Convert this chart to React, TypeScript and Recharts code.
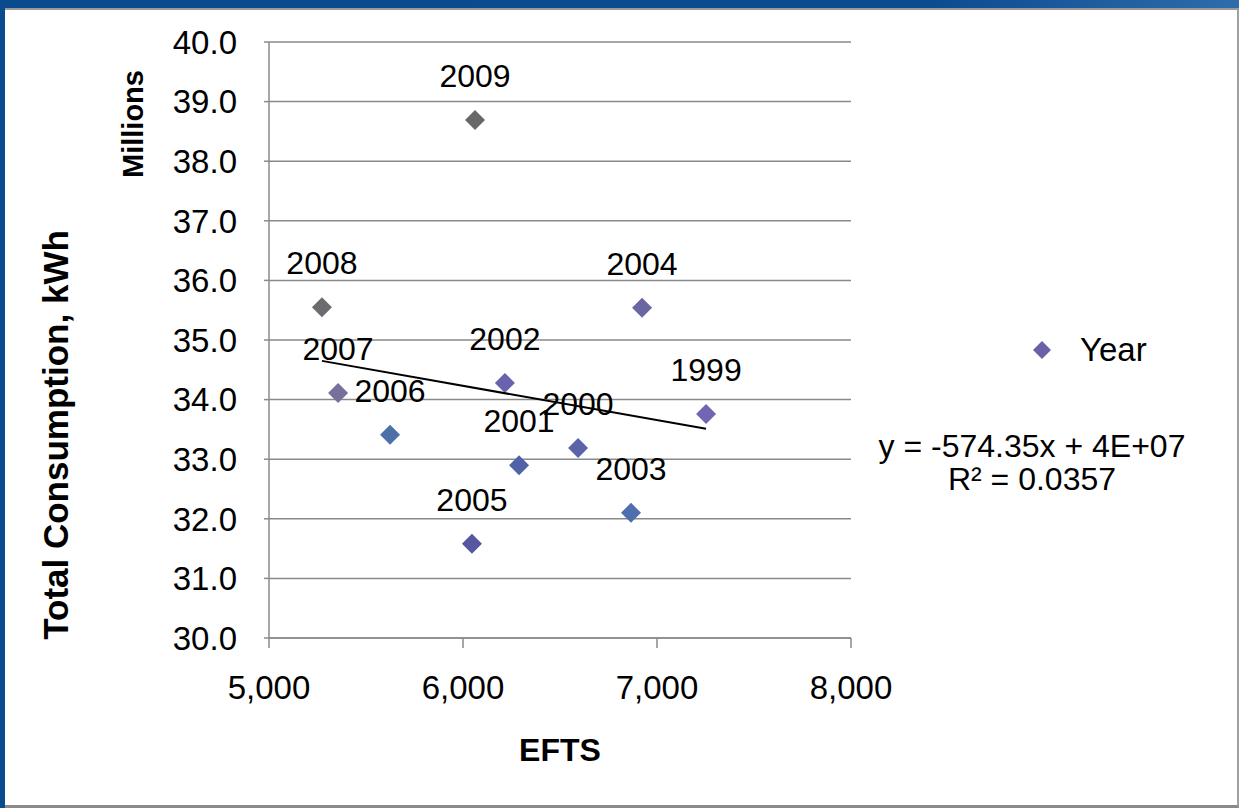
import React from 'react';
import { ScatterChart, Scatter, XAxis, YAxis, CartesianGrid, Legend, LabelList, Cell } from 'recharts';

const years = ['2009', '2008', '2007', '2006', '2005', '2002', '2001', '2000', '2003', '2004', '1999'];
const efts = [6062, 5273, 5356, 5624, 6046, 6216, 6289, 6593, 6866, 6923, 7253];
// total consumption, millions of kWh
const consumption = [38.69, 35.55, 34.11, 33.41, 31.58, 34.28, 32.9, 33.19, 32.1, 35.54, 33.76];
const markerColors = [
  '#686868', '#6c6c70', '#76709a', '#4d70a8', '#5558a0', '#6a62ae',
  '#5062a8', '#5a64a8', '#4f6eb0', '#6a66a2', '#7266b2'
];

const trendX = [5273, 7253];
const trendY = [34.65, 33.51];

const xTicks = [5000, 6000, 7000, 8000];
const yTicks = [30, 31, 32, 33, 34, 35, 36, 37, 38, 39, 40];

const FONT = '"Liberation Sans", Arial, sans-serif';

const points = years.map((year, i) => ({ year, x: efts[i], y: consumption[i] }));
const trend = trendX.map((x, i) => ({ x, y: trendY[i] }));

const Diamond = (props: any) => {
  const { cx, cy, fill } = props;
  if (cx == null || cy == null) return <g />;
  const r = 10;
  return <polygon points={`${cx},${cy - r} ${cx + r},${cy} ${cx},${cy + r} ${cx - r},${cy}`} fill={fill} />;
};

const YearLabel = (props: any) => {
  const { x, y, width, height, value } = props;
  const cx = x + (width ?? 0) / 2;
  const cy = y + (height ?? 0) / 2;
  return (
    <text x={cx} y={cy - 44} textAnchor="middle" dominantBaseline="central" fontSize={32} fontFamily={FONT} fill="#000">
      {value}
    </text>
  );
};

const renderLegend = () => (
  <div style={{ display: 'flex', alignItems: 'center', fontFamily: FONT, fontSize: 33, color: '#000', height: 36 }}>
    <svg width={24} height={24} style={{ marginRight: 26 }}>
      <polygon points="12,3 21,12 12,21 3,12" fill="#6a62a8" />
    </svg>
    <span>Year</span>
  </div>
);

const App: React.FC = () => {
  return (
    <div
      style={{
        position: 'absolute',
        left: 0,
        top: 0,
        width: 1239,
        height: 808,
        background: 'linear-gradient(90deg, #0a4a8e 0%, #0b4b8f 75%, #2e6cab 100%)',
        overflow: 'hidden'
      }}
    >
      <div
        style={{
          position: 'absolute',
          left: 5,
          top: 8,
          width: 1234,
          height: 800,
          background: '#fff',
          borderTop: '2px solid #9a9a9a',
          borderRight: '2px solid #a0a0a0',
          borderBottom: '3px solid #8a8a8a',
          boxSizing: 'border-box'
        }}
      />
      <div style={{ position: 'absolute', left: 0, top: 0 }}>
        <ScatterChart width={1239} height={808} margin={{ left: 189, right: 388, top: 42, bottom: 74 }}>
          <CartesianGrid horizontal vertical={false} stroke="#8a8a8a" strokeWidth={1.5} />
          <XAxis
            type="number"
            dataKey="x"
            domain={[5000, 8000]}
            ticks={xTicks}
            height={60}
            tickFormatter={(v: number) => v.toLocaleString('en-US')}
            tick={{ fontSize: 33, fontFamily: FONT, fill: '#000' }}
            tickSize={10}
            tickMargin={28}
            stroke="#8a8a8a"
            strokeWidth={1.5}
            allowDataOverflow
            label={(props: any) => {
              const vb = props.viewBox;
              return (
                <text x={vb.x + vb.width / 2} y={vb.y + 112} textAnchor="middle" dominantBaseline="central"
                  fontSize={32} fontWeight="bold" fontFamily={FONT} fill="#000">
                  EFTS
                </text>
              );
            }}
          />
          <YAxis
            type="number"
            dataKey="y"
            domain={[30, 40]}
            ticks={yTicks}
            width={80}
            tickFormatter={(v: number) => v.toFixed(1)}
            tick={{ fontSize: 33, fontFamily: FONT, fill: '#000' }}
            tickSize={5}
            tickMargin={27}
            stroke="#8a8a8a"
            strokeWidth={1.5}
            allowDataOverflow
            label={(props: any) => {
              const vb = props.viewBox;
              const tx = vb.x - 134;
              const ty = vb.y + 393;
              const mx = vb.x - 56;
              const my = vb.y + 82;
              return (
                <g>
                  <text x={tx} y={ty} transform={`rotate(-90 ${tx} ${ty})`} textAnchor="middle" dominantBaseline="central"
                    fontSize={35} fontWeight="bold" fontFamily={FONT} fill="#000">
                    Total Consumption, kWh
                  </text>
                  <text x={mx} y={my} transform={`rotate(-90 ${mx} ${my})`} textAnchor="middle" dominantBaseline="central"
                    fontSize={29} fontWeight="bold" fontFamily={FONT} fill="#000">
                    Millions
                  </text>
                </g>
              );
            }}
          />
          <Legend
            content={renderLegend}
            wrapperStyle={{ position: 'absolute', left: 1030, top: 332, width: 170, height: 36 }}
          />
          <Scatter name="Year" data={points} shape={Diamond} isAnimationActive={false}>
            {points.map((p, i) => (
              <Cell key={p.year} fill={markerColors[i]} />
            ))}
            <LabelList dataKey="year" content={YearLabel} />
          </Scatter>
          <Scatter
            name="trend"
            data={trend}
            line={{ stroke: '#000', strokeWidth: 2 }}
            shape={() => <g />}
            legendType="none"
            isAnimationActive={false}
          />
        </ScatterChart>
      </div>
      <div
        style={{
          position: 'absolute',
          left: 832,
          top: 430,
          width: 400,
          textAlign: 'center',
          fontFamily: FONT,
          fontSize: 32,
          lineHeight: '33px',
          color: '#000'
        }}
      >
        <div>y = -574.35x + 4E+07</div>
        <div>R² = 0.0357</div>
      </div>
    </div>
  );
};

export default App;
